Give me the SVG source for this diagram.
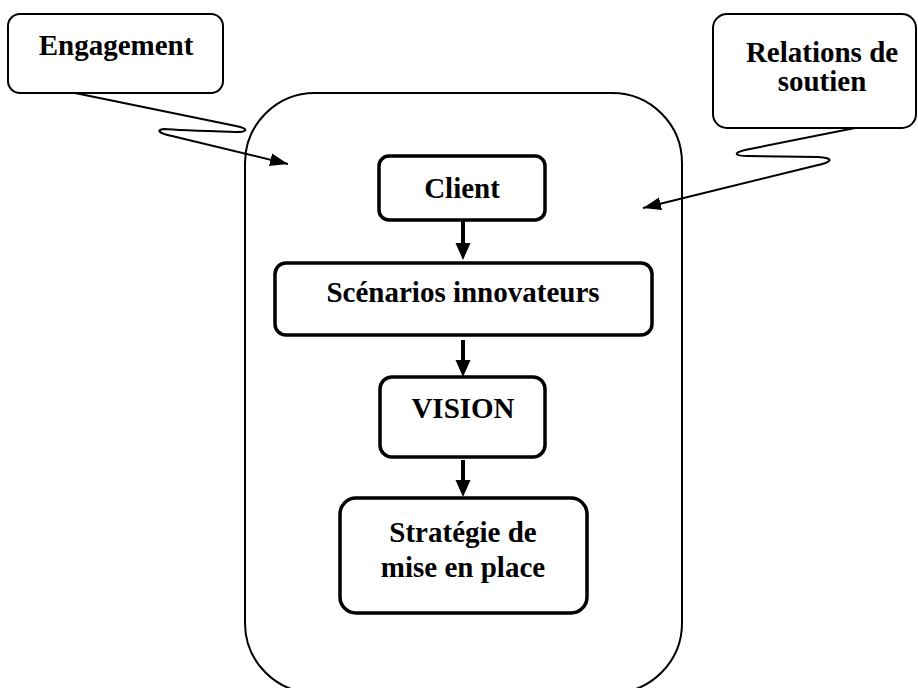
<svg xmlns="http://www.w3.org/2000/svg" width="918" height="688" viewBox="0 0 918 688">
<style>
.t{font-family:"Liberation Serif","Times New Roman",serif;font-weight:bold;font-size:29px;fill:#000;text-anchor:middle}
.box{fill:#fff;stroke:#000;stroke-width:3.5}
.call{fill:#fff;stroke:#000;stroke-width:2}
.cont{fill:none;stroke:#000;stroke-width:2}
.flow{fill:none;stroke:#000;stroke-width:4}
.ptr{fill:none;stroke:#000;stroke-width:2}
</style>
<defs>
<marker id="ah" markerUnits="userSpaceOnUse" markerWidth="17" markerHeight="16" viewBox="0 0 17 16" refX="4" refY="8" orient="auto">
<path d="M0,0.5 L17,8 L0,15.5 Z" fill="#000"/>
</marker>
<marker id="ah2" markerUnits="userSpaceOnUse" markerWidth="18" markerHeight="14" viewBox="0 0 18 14" refX="18" refY="7" orient="auto">
<path d="M0,0.5 L18,7 L0,13.5 Z" fill="#000"/>
</marker>
</defs>
<rect id="container" class="cont" x="245" y="93" width="437" height="600" rx="70" ry="70"/>
<g id="engagement">
<rect class="call" x="8" y="14" width="215" height="79" rx="12" ry="12"/>
<text class="t" x="116" y="55">Engagement</text>
</g>
<g id="relations">
<rect class="call" x="713" y="14" width="203" height="114" rx="14" ry="14"/>
<text class="t" x="822" y="62">Relations de</text>
<text class="t" x="822" y="91">soutien</text>
</g>
<g id="client">
<rect class="box" x="379" y="156" width="166" height="64" rx="10" ry="10"/>
<text class="t" x="462" y="198">Client</text>
</g>
<g id="scenarios">
<rect class="box" x="275" y="263" width="377" height="72" rx="11" ry="11"/>
<text class="t" x="463" y="302">Scénarios innovateurs</text>
</g>
<g id="vision">
<rect class="box" x="380" y="377" width="165" height="80" rx="12" ry="12"/>
<text class="t" x="463" y="418">VISION</text>
</g>
<g id="strategie">
<rect class="box" x="340" y="498" width="247" height="115" rx="16" ry="16"/>
<text class="t" x="463" y="542">Stratégie de</text>
<text class="t" x="463" y="577">mise en place</text>
</g>
<g id="connectors">
<line class="flow" x1="463" y1="220" x2="463" y2="247" marker-end="url(#ah)"/>
<line class="flow" x1="463" y1="340" x2="463" y2="364" marker-end="url(#ah)"/>
<line class="flow" x1="463" y1="460" x2="463" y2="484" marker-end="url(#ah)"/>
<path class="ptr" d="M75,93 L236,126 C250,129 247,132 236,132 C205,131 175,130 164,129 C156,130 158,133 172,136 L288,164" marker-end="url(#ah2)"/>
<path class="ptr" d="M855,128 L745,150 C733,153 734,156 748,156 L818,157 C834,158 834,162 814,166 L643,208" marker-end="url(#ah2)"/>
</g>
</svg>
